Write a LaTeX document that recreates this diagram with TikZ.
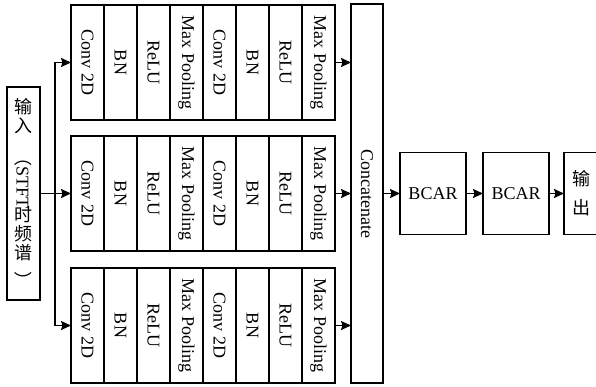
\documentclass[tikz,border=0pt]{standalone}
\usepackage{fontspec}
\setmainfont{Liberation Serif}
\newfontfamily\cjk{Noto Sans CJK SC}
\usetikzlibrary{arrows.meta, positioning}
\tikzstyle{layer} = [rectangle, draw=black, line width=1.8pt, minimum width=33pt,
                     minimum height=115pt, inner sep=0pt, outer sep=0pt]
\tikzstyle{block} = [rectangle, draw=black, line width=1.8pt, minimum width=66pt,
                     minimum height=82pt, inner sep=0pt, outer sep=0pt]
\tikzstyle{arrow} = [-{Stealth[length=10pt, width=9pt, inset=1.5pt]}, line width=1.8pt]
\newcommand{\vt}[1]{\rotatebox{-90}{#1}}
\newcommand{\zh}[1]{{\cjk #1}}

\begin{document}
\begin{tikzpicture}[x=1pt, y=-1pt, font=\fontsize{18pt}{19pt}\selectfont]
    \useasboundingbox (0,0) rectangle (596,387);

    % Input spectrogram
    \node[layer, minimum height=213pt, align=center] (in) at (23.5,193.5)
        {\zh{输}\\\zh{入}\\[-3pt]\vt{\zh{（}STFT}\\[-3pt]\zh{时}\\\zh{频}\\\zh{谱}\\[-7pt]\vt{\zh{）}}};

    % Concatenate
    \node[layer, minimum width=32pt, minimum height=379pt] (cat) at (367,193.5) {\vt{Concatenate}};

    % Three conv branches
    \foreach \r/\y in {1/62.5, 2/193.5, 3/325.5} {
        \foreach \t [count=\c] in {Conv 2D, BN, ReLU, Max Pooling, Conv 2D, BN, ReLU, Max Pooling}
            \node[layer] (l\r-\c) at ({71+33*(\c-0.5)}, \y) {\vt{\t}};
        \draw[arrow] (l\r-8.east) -- (l\r-8.east -| cat.west);
    }

    % Split input into branches
    \coordinate (split) at (55,193.5);
    \draw[line width=1.8pt] (in.east) -- (split);
    \draw[arrow] (split) -- (l2-1.west);
    \draw[arrow] (split) |- (l1-1.west);
    \draw[arrow] (split) |- (l3-1.west);

    % BCAR blocks and output
    \node[block] (bcar1) at (433,193.5) {BCAR};
    \node[block] (bcar2) at (516,193.5) {BCAR};
    \node[block, minimum width=34pt, align=center] (out) at (581,193.5) {\zh{输}\\[10pt]\zh{出}};

    \draw[arrow] (cat.east) -- (bcar1.west);
    \draw[arrow] (bcar1) -- (bcar2);
    \draw[arrow] (bcar2) -- (out);
\end{tikzpicture}
\end{document}
